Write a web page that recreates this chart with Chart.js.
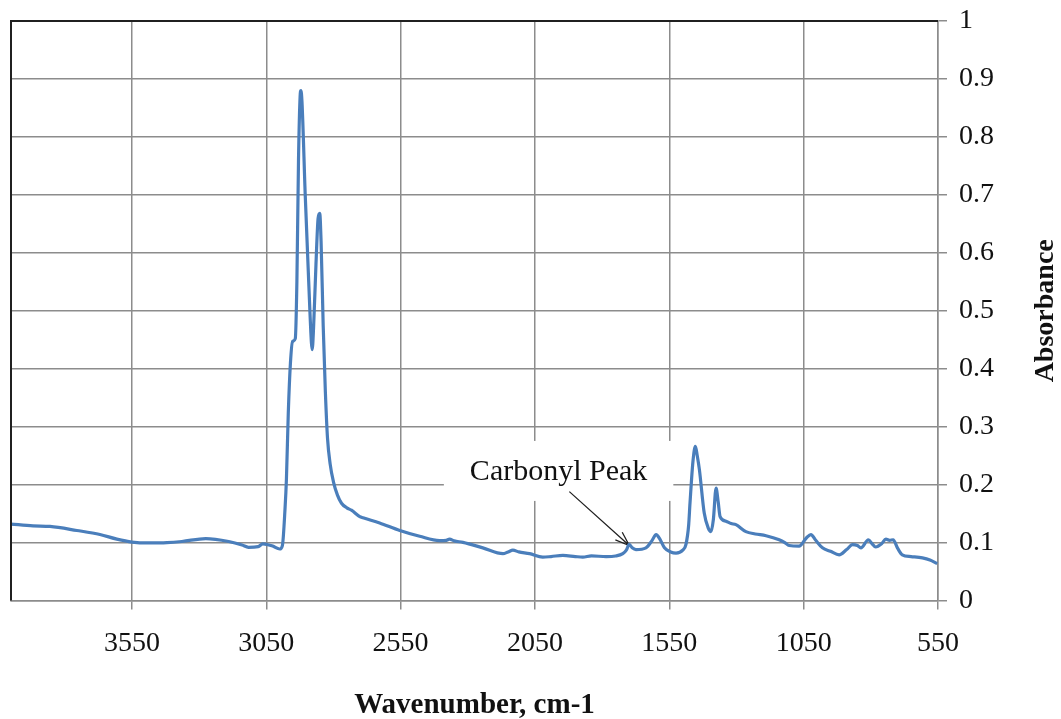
<!DOCTYPE html><html lang="en"><head>
    <meta charset="UTF-8">
    <title>FTIR Spectrum</title>
    <script src="https://cdn.jsdelivr.net/npm/chart.js@4.4.1/dist/chart.umd.min.js"></script>
    <style>
      body { margin: 0; background: #fff; }
    </style>
  </head>
  <body>
    <canvas id="myChart" width="1061" height="719"></canvas>

    <script>
      // Spectrum, wavenumber in cm-1 (descending) and absorbance
      const wavenumber = [
        4000, 3918, 3855, 3755, 3669, 3606, 3550, 3487, 3420, 3364, 3275, 3190, 3140, 3116, 3080, 3063,
        3040, 3026, 3000, 2990, 2980, 2975, 2968, 2960, 2952, 2942, 2936, 2930, 2924, 2921, 2917, 2905,
        2892, 2882, 2879, 2874, 2865, 2857, 2851, 2846, 2838, 2830, 2822, 2812, 2800, 2785, 2770, 2750,
        2733, 2702, 2690, 2628, 2553, 2479, 2405, 2380, 2368, 2350, 2318, 2244, 2169, 2150, 2132, 2110,
        2070, 2021, 1990, 1946, 1900, 1872, 1840, 1785, 1750, 1723, 1710, 1699, 1688, 1674, 1637, 1615,
        1599, 1585, 1568, 1545, 1525, 1500, 1488, 1478, 1473, 1462, 1453, 1446, 1438, 1420, 1405, 1395,
        1386, 1376, 1368, 1361, 1339, 1320, 1302, 1265, 1230, 1190, 1141, 1120, 1104, 1067, 1040, 1023,
        1005, 980, 950, 918, 890, 868, 850, 837, 809, 795, 782, 760, 744, 730, 717, 700,
        683, 650, 608, 580, 553
      ];
      const absorbance = [
        0.132, 0.129, 0.128, 0.121, 0.114, 0.106, 0.101, 0.0995, 0.100, 0.102, 0.107, 0.102, 0.096, 0.092, 0.093, 0.098,
        0.096, 0.094, 0.089, 0.095, 0.160, 0.209, 0.324, 0.410, 0.447, 0.452, 0.550, 0.760, 0.870, 0.880, 0.860, 0.700,
        0.550, 0.445, 0.433, 0.470, 0.580, 0.660, 0.668, 0.620, 0.473, 0.360, 0.280, 0.235, 0.205, 0.182, 0.168, 0.160,
        0.156, 0.145, 0.143, 0.134, 0.121, 0.111, 0.1035, 0.104, 0.106, 0.103, 0.1005, 0.091, 0.081, 0.084, 0.087, 0.084,
        0.081, 0.075, 0.076, 0.078, 0.076, 0.075, 0.077, 0.076, 0.077, 0.081, 0.087, 0.097, 0.091, 0.088, 0.091, 0.103,
        0.114, 0.106, 0.091, 0.084, 0.082, 0.087, 0.097, 0.130, 0.168, 0.240, 0.266, 0.250, 0.226, 0.151, 0.125, 0.119,
        0.140, 0.194, 0.170, 0.145, 0.137, 0.133, 0.131, 0.119, 0.115, 0.112, 0.105, 0.100, 0.095, 0.094, 0.108, 0.114,
        0.104, 0.091, 0.085, 0.079, 0.088, 0.0966, 0.095, 0.091, 0.105, 0.098, 0.0925, 0.098, 0.106, 0.104, 0.105, 0.090,
        0.079, 0.076, 0.0736, 0.070, 0.0638
      ];
      const xTickValues = [550, 1050, 1550, 2050, 2550, 3050, 3550];

      // callout pointing at the carbonyl band
      const calloutText = 'Carbonyl Peak';
      const calloutLabel = { x: 1962, y: 0.222 };
      const calloutTail = { x: 1922, y: 0.188 };
      const calloutTip = { x: 1699, y: 0.095 };

      const serif = '"Liberation Serif", "Times New Roman", serif';
      const gridColor = '#8c8c8c';

      // black frame on the top and left sides of the plot area
      const frame = {
        id: 'frame',
        afterDatasetsDraw(chart) {
          const { ctx, chartArea: a } = chart;
          ctx.save();
          ctx.strokeStyle = '#202020';
          ctx.lineWidth = 2;
          ctx.beginPath();
          ctx.moveTo(a.left, a.bottom);
          ctx.lineTo(a.left, a.top);
          ctx.lineTo(a.right, a.top);
          ctx.stroke();
          ctx.restore();
        }
      };

      const callout = {
        id: 'callout',
        beforeDatasetsDraw(chart) {
          const { ctx, scales: { x, y } } = chart;
          const cx = x.getPixelForValue(calloutLabel.x);
          const cy = y.getPixelForValue(calloutLabel.y);
          ctx.save();
          ctx.font = '30px ' + serif;
          const w = ctx.measureText(calloutText).width;
          ctx.fillStyle = '#fff';
          ctx.fillRect(cx - w / 2 - 26, cy - 31, w + 52, 60);
          ctx.fillStyle = '#111';
          ctx.textAlign = 'center';
          ctx.textBaseline = 'middle';
          ctx.fillText(calloutText, cx, cy);

          const x0 = x.getPixelForValue(calloutTail.x), y0 = y.getPixelForValue(calloutTail.y);
          const x1 = x.getPixelForValue(calloutTip.x), y1 = y.getPixelForValue(calloutTip.y);
          const ang = Math.atan2(y1 - y0, x1 - x0);
          ctx.strokeStyle = '#222';
          ctx.lineWidth = 1.3;
          ctx.beginPath();
          ctx.moveTo(x0, y0);
          ctx.lineTo(x1, y1);
          ctx.moveTo(x1 - 15 * Math.cos(ang - 0.35), y1 - 15 * Math.sin(ang - 0.35));
          ctx.lineTo(x1, y1);
          ctx.lineTo(x1 - 15 * Math.cos(ang + 0.35), y1 - 15 * Math.sin(ang + 0.35));
          ctx.stroke();
          ctx.restore();
        }
      };

      // y axis title on the right, reading bottom to top
      const yTitle = {
        id: 'yTitle',
        afterDraw(chart) {
          const { ctx, chartArea: a } = chart;
          ctx.save();
          ctx.translate(1046, (a.top + a.bottom) / 2);
          ctx.rotate(-Math.PI / 2);
          ctx.font = 'bold 28px ' + serif;
          ctx.fillStyle = '#111';
          ctx.textAlign = 'center';
          ctx.textBaseline = 'middle';
          ctx.fillText('Absorbance', 0, 0);
          ctx.restore();
        }
      };

      const ctx = document.getElementById('myChart').getContext('2d');
      const myChart = new Chart(ctx, {
        type: 'line',
        data: {
          datasets: [{
            data: wavenumber.map((w, i) => ({ x: w, y: absorbance[i] })),
            borderColor: '#4a7ebb',
            borderWidth: 3.2,
            pointRadius: 0,
            fill: false,
            cubicInterpolationMode: 'monotone'
          }]
        },
        options: {
          responsive: false,
          animation: false,
          layout: { padding: { left: 11, top: 21, right: 55, bottom: 0 } },
          plugins: { legend: { display: false }, tooltip: { enabled: false } },
          scales: {
            x: {
              type: 'linear',
              reverse: true,
              min: 550,
              max: 4000,
              afterBuildTicks: scale => { scale.ticks = xTickValues.map(v => ({ value: v })); },
              grid: { color: gridColor, lineWidth: 1.5, tickLength: 9 },
              border: { color: gridColor, width: 1.5 },
              ticks: {
                color: '#111',
                padding: 17,
                maxRotation: 0,
                font: { family: serif, size: 28 },
                callback: v => String(v)
              },
              title: {
                display: true,
                text: 'Wavenumber, cm-1',
                color: '#111',
                font: { family: serif, size: 29, weight: 'bold' },
                padding: { top: 11, bottom: -4 }
              }
            },
            y: {
              position: 'right',
              min: 0,
              max: 1,
              // the top label may overhang the plot area
              afterFit: scale => { scale.paddingTop = 0; },
              grid: { color: gridColor, lineWidth: 1.5, tickLength: 9 },
              border: { color: gridColor, width: 1.5 },
              ticks: {
                stepSize: 0.1,
                color: '#111',
                padding: 12,
                font: { family: serif, size: 28 },
                callback: v => String(Number(v.toFixed(1)))
              }
            }
          }
        },
        plugins: [frame, callout, yTitle]
      });
    </script>
  
</body></html>
